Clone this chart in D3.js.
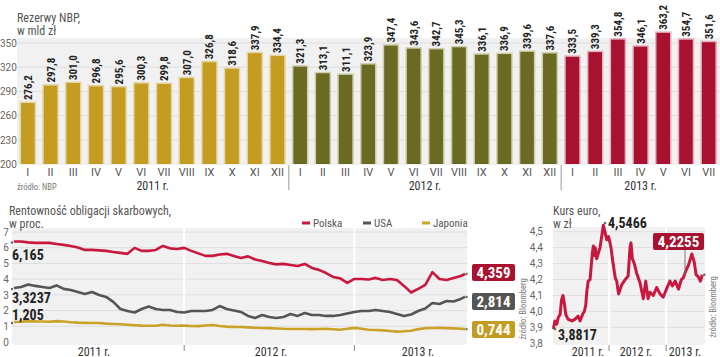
<!DOCTYPE html>
<html><head><meta charset="utf-8">
<script src="https://cdn.jsdelivr.net/npm/d3@7/dist/d3.min.js"></script>
<style>
body{margin:0;background:#fff;}
svg{display:block;font-family:"Liberation Sans Narrow","Roboto Condensed","DejaVu Sans Condensed",Roboto,sans-serif;}
</style></head><body><svg id="c" width="720" height="357"></svg>
<script>
// ---- Rezerwy NBP (mld zł) ----
const monthLabels = ["I","II","III","IV","V","VI","VII","VIII","IX","X","XI","XII"];
const reserveYears = ["2011 r.","2012 r.","2013 r."];
const reserves2011 = [276.2,297.8,301.0,296.8,295.6,300.3,299.8,307.0,326.8,318.6,337.9,334.4];
const reserves2012 = [321.3,313.1,311.1,323.9,347.4,343.6,342.7,345.3,336.1,336.9,339.6,337.6];
const reserves2013 = [333.5,339.3,354.8,346.1,363.2,354.7,351.6];
const reserveTicks = [200,230,260,290,320,350];
const yearColors = ["#c49c1f","#6a6a22","#a8112f"];

// ---- Rentowność obligacji (month index from Jan 2011) ----
const bondT = [0,0.5,1,1.5,2,2.5,3,3.5,4,4.5,5,5.5,6,6.5,7,7.5,8,8.5,9,9.5,10,10.5,11,11.5,12,12.5,13,13.5,14,14.5,15,15.5,16,16.5,17,17.5,18,18.5,19,19.5,20,20.5,21,21.5,22,22.5,23,23.5,24,24.5,25,25.5,26,26.5,27,27.5,28,28.5,29,29.5,30,30.5,31,31.5,31.8];
const polska = [6.40,6.40,6.34,6.31,6.31,6.31,6.24,6.18,6.11,6.02,5.86,5.86,5.83,5.80,5.73,5.67,5.61,5.99,5.80,5.80,5.86,6.11,5.96,5.92,5.99,5.80,5.64,5.48,5.48,5.57,5.61,5.48,5.35,5.45,5.25,5.16,5.03,4.94,4.97,4.90,4.84,4.97,4.71,4.59,4.39,4.14,4.05,3.76,4.01,4.01,3.98,4.08,3.95,4.01,3.95,3.57,3.15,3.38,3.63,4.45,4.01,3.95,4.08,4.20,4.33];
const usa = [3.44,3.50,3.66,3.57,3.50,3.44,3.60,3.38,3.31,3.18,3.06,3.18,2.99,2.87,2.55,2.10,1.97,1.88,2.10,2.26,2.10,2.04,2.04,1.91,1.88,1.97,1.97,1.97,2.04,2.29,2.10,2.01,1.91,1.66,1.53,1.72,1.59,1.53,1.59,1.78,1.66,1.85,1.72,1.72,1.66,1.66,1.72,1.82,1.91,1.97,1.97,2.04,1.97,1.91,1.78,1.66,1.75,1.97,2.13,2.48,2.42,2.61,2.58,2.74,2.87];
const japonia = [1.27,1.29,1.33,1.31,1.30,1.29,1.33,1.30,1.26,1.23,1.22,1.21,1.21,1.17,1.15,1.13,1.10,1.07,1.04,1.03,1.03,1.10,1.05,1.03,1.04,1.02,1.01,1.05,1.08,1.02,0.98,0.96,0.95,0.93,0.91,0.89,0.88,0.86,0.84,0.83,0.83,0.83,0.82,0.83,0.84,0.81,0.78,0.84,0.90,0.84,0.78,0.76,0.74,0.70,0.66,0.68,0.72,0.82,0.88,0.89,0.90,0.88,0.87,0.84,0.82];
const bondNames = ["Polska","USA","Japonia"];
const bondColors = ["#c8183f","#555555","#c9a227"];
const bondBoxColors = ["#a8112f","#555555","#c49c1f"];
const bondStart = ["6,165","3,3237","1,205"];
const bondEnd = ["4,359","2,814","0,744"];
const bondTicks = [0,1,2,3,4,5,6,7];

// ---- Kurs euro (month index from Jan 2011) ----
const euroT = [0.3,0.6,1.0,1.3,1.7,2.0,2.3,2.6,2.9,3.4,4.2,4.8,5.5,5.9,6.4,6.8,7.1,7.3,7.6,8.0,8.2,8.5,8.7,8.9,9.1,9.4,9.8,10.1,10.5,10.8,11.2,11.5,11.9,12.4,12.8,13.3,13.6,14.0,14.7,15.4,16.0,16.4,16.6,16.9,17.3,17.8,18.5,19.2,19.7,20.2,20.6,21.3,22.0,22.7,23.4,24.2,24.8,25.3,25.9,26.6,27.2,27.6,28.2,28.7,29.4,29.9,30.3,30.7,31.2,31.6];
const euroV = [3.89,3.94,3.92,3.96,3.98,4.07,4.10,4.05,3.98,3.95,3.94,3.95,3.97,3.94,3.98,4.00,4.04,4.12,4.19,4.20,4.27,4.37,4.41,4.35,4.40,4.33,4.37,4.40,4.48,4.54,4.49,4.45,4.47,4.40,4.31,4.21,4.19,4.11,4.17,4.20,4.22,4.40,4.43,4.33,4.30,4.24,4.18,4.08,4.19,4.08,4.12,4.10,4.15,4.11,4.09,4.15,4.19,4.16,4.19,4.14,4.20,4.21,4.26,4.29,4.36,4.31,4.23,4.22,4.19,4.23];
const euroTicks = [3.8,3.9,4.0,4.1,4.2,4.3,4.4,4.5];
const lineYears = ["2011 r.","2012 r.","2013 r."];

const svg = d3.select("#c");
const grey = "#666";
const comma = f => v => f(v).replace(".", ",");

// ================= BAR CHART =================
const bars = [];
[reserves2011, reserves2012, reserves2013].forEach((arr, yi) =>
  arr.forEach((v, mi) => bars.push({i: bars.length, v, m: monthLabels[mi], y: yi})));

const xb = d3.scaleBand().domain(bars.map(d => d.i)).range([16.5, 720]).paddingInner(0.36).paddingOuter(0.18);
const yb = d3.scaleLinear().domain([200, 350]).range([164, 43]);

svg.append("rect").attr("x", 17).attr("y", 38).attr("width", 703).attr("height", 127).attr("fill", "#f1f1f1");
svg.append("g").selectAll("line").data(reserveTicks.slice(1)).join("line")
  .attr("x1", 17).attr("x2", 720).attr("y1", d => yb(d)).attr("y2", d => yb(d))
  .attr("stroke", "#dedede").attr("stroke-width", 1);

const yAxB = svg.append("g").attr("transform", "translate(0,0)")
  .call(d3.axisLeft(yb).tickValues(reserveTicks).tickSize(0).tickPadding(0).tickFormat(d3.format("d")));
yAxB.select(".domain").remove();
yAxB.selectAll("text").attr("text-anchor", "start").attr("x", 0).attr("fill", grey)
  .style("font-size", "10px").style("font-family", "Roboto, sans-serif");

const tint = ["#e3d6a4", "#cfcfae", "#e4b5bf"];
svg.append("g").selectAll("rect").data(bars).join("rect")
  .attr("x", d => xb(d.i) - 1).attr("width", xb.bandwidth() + 2)
  .attr("y", d => yb(d.v) - 1).attr("height", d => yb(200) - yb(d.v) + 1)
  .attr("fill", d => tint[d.y]);
svg.append("g").selectAll("rect").data(bars).join("rect")
  .attr("x", d => xb(d.i) + 0.5).attr("width", xb.bandwidth() - 1)
  .attr("y", d => yb(d.v) + 0.5).attr("height", d => yb(200) - yb(d.v) - 0.5)
  .attr("fill", d => yearColors[d.y]);

svg.append("g").selectAll("text").data(bars).join("text")
  .attr("transform", d => `translate(${xb(d.i) + xb.bandwidth()/2 + 4},${yb(d.v) - 2.5}) rotate(-90)`)
  .attr("fill", "#222").style("font-size", "11px").style("font-weight", "bold")
  .text(d => d3.format(".1f")(d.v).replace(".", ","));

const xAxB = svg.append("g").attr("transform", "translate(0,166)")
  .call(d3.axisBottom(xb).tickSize(0).tickPadding(2).tickFormat(i => bars[i].m));
xAxB.select(".domain").remove();
xAxB.selectAll("text").attr("fill", "#555").style("font-size", "11px").style("font-family", "Roboto, sans-serif");

// year separators and labels
[12, 24].forEach(i => {
  const x = xb(i) - xb.step() * xb.paddingInner() / 2;
  svg.append("line").attr("x1", x).attr("x2", x).attr("y1", 165).attr("y2", 190).attr("stroke", "#999");
});
const yearSpans = [[0, 11], [12, 23], [24, 30]];
yearSpans.forEach((s, k) => {
  const cx = (xb(s[0]) + xb(s[1]) + xb.bandwidth()) / 2;
  svg.append("text").attr("x", cx).attr("y", 190).attr("text-anchor", "middle")
    .attr("fill", "#333").style("font-size", "12px").text(reserveYears[k]);
});
svg.append("text").attr("x", 17).attr("y", 190).attr("fill", "#777").style("font-size", "8.5px").text("źródło: NBP");
svg.append("text").attr("x", 17).attr("y", 22).attr("fill", "#555").style("font-size", "12px").text("Rezerwy NBP,");
svg.append("text").attr("x", 17).attr("y", 35).attr("fill", "#555").style("font-size", "12px").text("w mld zł");

// ================= BOND CHART =================
const xl = d3.scaleLinear().domain([0, 31.8]).range([14, 465]);
const yl = d3.scaleLinear().domain([0, 7]).range([342, 232]);

svg.append("rect").attr("x", 12).attr("y", 228).attr("width", 455).attr("height", 117).attr("rx", 4).attr("fill", "#f1f1f1");
svg.append("g").selectAll("line").data(bondTicks.slice(1)).join("line")
  .attr("x1", 12).attr("x2", 467).attr("y1", d => yl(d)).attr("y2", d => yl(d))
  .attr("stroke", "#dedede");
[12, 24].forEach(m => {
  svg.append("line").attr("x1", xl(m)).attr("x2", xl(m)).attr("y1", 228).attr("y2", 345).attr("stroke", "#fff").attr("stroke-width", 2);
  svg.append("line").attr("x1", xl(m)).attr("x2", xl(m)).attr("y1", 345).attr("y2", 351).attr("stroke", "#888");
});
const yAxL = svg.append("g").attr("transform", "translate(0,0)")
  .call(d3.axisLeft(yl).tickValues(bondTicks).tickSize(0).tickPadding(0).tickFormat(d3.format("d")));
yAxL.select(".domain").remove();
yAxL.selectAll("text").attr("text-anchor", "middle").attr("x", 6).attr("fill", grey)
  .style("font-size", "10px").style("font-family", "Roboto, sans-serif");

const bondSeries = [polska, usa, japonia];
const lineGen = d3.line().x((d, i) => xl(bondT[i])).y(d => yl(d));
bondSeries.forEach((s, k) => {
  svg.append("path").attr("d", lineGen(s)).attr("fill", "none")
    .attr("stroke", bondColors[k]).attr("stroke-width", 2.6).attr("stroke-linejoin", "round");
  svg.append("circle").attr("cx", xl(bondT[0]) - 2).attr("cy", yl(s[0]) + 1).attr("r", 1.2).attr("fill", "#666");
  svg.append("circle").attr("cx", xl(bondT[bondT.length - 1]) + 1.5).attr("cy", yl(s[s.length - 1])).attr("r", 1.2).attr("fill", "#666");
});
// start labels
const startY = [260, 303, 320];
bondStart.forEach((t, k) => {
  svg.append("text").attr("x", 12).attr("y", startY[k]).attr("fill", "#222")
    .style("font-size", "14px").style("font-weight", "bold").text(t);
});
// end boxes
const boxY = [264, 293, 321];
bondEnd.forEach((t, k) => {
  svg.append("rect").attr("x", 472).attr("y", boxY[k]).attr("width", 43).attr("height", 17).attr("rx", 2).attr("fill", bondBoxColors[k]);
  svg.append("text").attr("x", 493.5).attr("y", boxY[k] + 14).attr("text-anchor", "middle")
    .attr("fill", "#fff").style("font-size", "15px").style("font-weight", "bold").text(t);
});
svg.append("text").attr("transform", "translate(526,309) rotate(-90)").attr("text-anchor", "middle")
  .attr("fill", "#777").style("font-size", "8.5px").text("źródło: Bloomberg");
// legend
const legX = [302, 363, 422];
bondNames.forEach((n, k) => {
  svg.append("line").attr("x1", legX[k]).attr("x2", legX[k] + 8).attr("y1", 223).attr("y2", 223)
    .attr("stroke", bondColors[k]).attr("stroke-width", 3);
  svg.append("text").attr("x", legX[k] + 11).attr("y", 227).attr("fill", "#555").style("font-size", "11px").text(n);
});
svg.append("text").attr("x", 9).attr("y", 215).attr("fill", "#555").style("font-size", "12px").text("Rentowność obligacji skarbowych,");
svg.append("text").attr("x", 9).attr("y", 228).attr("fill", "#555").style("font-size", "12px").text("w proc.");
const bondYearX = [94, 271, 418];
lineYears.forEach((t, k) => svg.append("text").attr("x", bondYearX[k]).attr("y", 355.5).attr("text-anchor", "middle")
  .attr("fill", "#333").style("font-size", "12px").text(t));

// ================= EURO CHART =================
const xe = d3.scaleLinear().domain([0, 31.6]).range([552, 702.3]);
const ye = d3.scaleLinear().domain([3.8, 4.5]).range([343.3, 231.7]);
svg.append("rect").attr("x", 553).attr("y", 227).attr("width", 152).attr("height", 118).attr("rx", 4).attr("fill", "#f1f1f1");
svg.append("g").selectAll("line").data(euroTicks.slice(1)).join("line")
  .attr("x1", 553).attr("x2", 705).attr("y1", d => ye(d)).attr("y2", d => ye(d)).attr("stroke", "#dedede");
[12, 24].forEach(m => {
  svg.append("line").attr("x1", xe(m)).attr("x2", xe(m)).attr("y1", 227).attr("y2", 345).attr("stroke", "#fff").attr("stroke-width", 2);
  svg.append("line").attr("x1", xe(m)).attr("x2", xe(m)).attr("y1", 345).attr("y2", 351).attr("stroke", "#888");
});
const yAxE = svg.append("g").attr("transform", "translate(543,0)")
  .call(d3.axisLeft(ye).tickValues(euroTicks).tickSize(0).tickPadding(0).tickFormat(comma(d3.format(".1f"))));
yAxE.select(".domain").remove();
yAxE.selectAll("text").attr("fill", grey).style("font-size", "10px").style("font-family", "Roboto, sans-serif");

const euroLine = d3.line().x((d, i) => xe(euroT[i])).y(d => ye(d));
svg.append("path").attr("d", euroLine(euroV)).attr("fill", "none").attr("stroke", "#c8183f")
  .attr("stroke-width", 3).attr("stroke-linejoin", "round");
svg.append("circle").attr("cx", 605).attr("cy", 223).attr("r", 1.3).attr("fill", "#666");
svg.append("text").attr("x", 608).attr("y", 228).attr("fill", "#222").style("font-size", "14px").style("font-weight", "bold").text("4,5466");
svg.append("circle").attr("cx", 555).attr("cy", 329).attr("r", 1.3).attr("fill", "#666");
svg.append("text").attr("x", 558).attr("y", 340).attr("fill", "#222").style("font-size", "14px").style("font-weight", "bold").text("3,8817");
svg.append("line").attr("x1", 685).attr("x2", 685).attr("y1", 250).attr("y2", 275).attr("stroke", "#777");
svg.append("circle").attr("cx", xe(31.6) + 2).attr("cy", ye(4.23)).attr("r", 1.3).attr("fill", "#666");
svg.append("rect").attr("x", 653).attr("y", 233).attr("width", 51).attr("height", 17).attr("rx", 2).attr("fill", "#a8112f");
svg.append("text").attr("x", 678.5).attr("y", 247).attr("text-anchor", "middle").attr("fill", "#fff")
  .style("font-size", "15px").style("font-weight", "bold").text("4,2255");
svg.append("text").attr("transform", "translate(716,307) rotate(-90)").attr("text-anchor", "middle")
  .attr("fill", "#777").style("font-size", "8.5px").text("źródło: Bloomberg");
svg.append("text").attr("x", 553).attr("y", 215).attr("fill", "#555").style("font-size", "12px").text("Kurs euro,");
svg.append("text").attr("x", 553).attr("y", 228).attr("fill", "#555").style("font-size", "12px").text("w zł");
const euroYearX = [588, 636, 685];
lineYears.forEach((t, k) => svg.append("text").attr("x", euroYearX[k]).attr("y", 355.5).attr("text-anchor", "middle")
  .attr("fill", "#333").style("font-size", "12px").text(t));
</script></body></html>
